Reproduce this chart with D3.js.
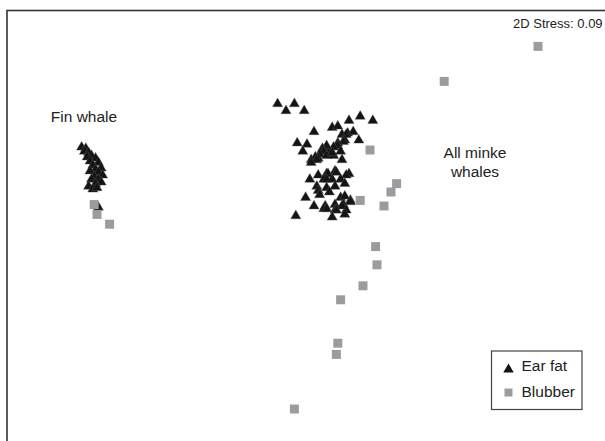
<!DOCTYPE html>
<html>
<head>
<meta charset="utf-8">
<script src="https://cdn.jsdelivr.net/npm/d3@7"></script>
<style>
  body { margin: 0; background: #fff; }
  text { font-family: "Liberation Sans", Arial, sans-serif; fill: #222; }
</style>
</head>
<body>
<div id="chart"></div>
<script>
var width = 605;
var height = 441;

// nMDS ordination coordinates
let finEarFat = [[-1.56,0.52],[-1.53,0.51],[-1.54,0.49],[-1.51,0.48],[-1.49,0.46],[-1.52,0.45],[-1.46,0.44],[-1.50,0.42],
    [-1.44,0.41],[-1.48,0.39],[-1.42,0.37],[-1.46,0.36],[-1.50,0.35],[-1.44,0.34],[-1.41,0.32],[-1.47,0.31],
    [-1.49,0.29],[-1.44,0.29],[-1.42,0.27],[-1.46,0.26],[-1.51,0.24],[-1.48,0.22],[-1.45,0.23],[-1.44,0.09]];

let minkeEarFat = [[-0.16,0.83],[-0.04,0.83],[-0.10,0.78],[0.03,0.78],
    [0.43,0.74],[0.35,0.71],[0.52,0.71],
    [0.10,0.63],[0.23,0.66],[0.27,0.67],
    [0.30,0.61],[0.34,0.62],[0.33,0.61],[0.38,0.63],[0.42,0.57],[0.32,0.57],[0.31,0.56],
    [-0.02,0.55],[0.05,0.54],[0.02,0.49],
    [0.27,0.55],[0.27,0.53],[0.24,0.52],[0.20,0.50],[0.19,0.53],[0.16,0.51],[0.17,0.49],[0.14,0.47],
    [0.11,0.45],[0.13,0.44],[0.08,0.43],[0.12,0.43],
    [0.19,0.46],[0.24,0.46],[0.23,0.48],[0.29,0.49],[0.30,0.43],[0.08,0.41],
    [0.07,0.29],[0.13,0.32],[0.19,0.33],[0.20,0.33],[0.25,0.35],[0.26,0.34],[0.35,0.33],[0.33,0.32],
    [0.17,0.29],[0.19,0.29],[0.23,0.29],[0.29,0.29],
    [0.32,0.26],[0.12,0.24],[0.19,0.23],[0.25,0.24],
    [0.13,0.21],[0.21,0.20],[0.14,0.18],
    [0.04,0.16],[0.10,0.10],[0.18,0.10],[0.29,0.16],[0.32,0.17],[0.36,0.14],[0.36,0.13],[0.25,0.11],[0.31,0.11],[0.30,0.10],
    [0.17,0.08],[0.19,0.08],[0.25,0.07],[0.26,0.07],[0.33,0.07],
    [-0.03,0.03],[0.23,0.02],[0.32,0.04]];

let finBlubber = [[-1.47,0.11],[-1.45,0.04],[-1.36,-0.03]];

let minkeBlubber = [[1.70,1.24],[1.03,0.99],[0.50,0.50],[0.69,0.26],[0.65,0.20],[0.43,0.14],[0.60,0.10],
    [0.54,-0.19],[0.55,-0.32],[0.45,-0.47],[0.29,-0.57],[0.27,-0.88],[0.26,-0.96],[-0.04,-1.35]];

let groupLabels = [
    {text: ["Fin whale"], pos: [-1.78, 0.70], anchor: "start"},
    {text: ["All minke", "whales"], pos: [1.25, 0.44], anchor: "middle"}
];
let legendItems = ["Ear fat", "Blubber"];
let stressLabel = "2D Stress: 0.09";

let x = d3.scaleLinear().domain([-2, 2]).range([20, 580]);
let y = d3.scaleLinear().domain([-1.5, 1.5]).range([430, 10]);

var svg = d3.select("#chart")
            .append("svg")
              .attr("width", width).attr("height", height);

// frame (runs off the right and bottom edge like the original)
svg.append("rect")
    .attr("x", 7).attr("y", 10.5)
    .attr("width", 700).attr("height", 500)
    .attr("fill", "none").attr("stroke", "#333").attr("stroke-width", 1.6);

let tri = d3.symbol().type(d3.symbolTriangle).size(44);
let sq = d3.symbol().type(d3.symbolSquare).size(81);

let earFat = finEarFat.concat(minkeEarFat);
let blubber = finBlubber.concat(minkeBlubber);

svg.append("g").selectAll(".ear").data(earFat)
    .join("path")
    .attr("class", "ear")
    .attr("d", tri)
    .attr("transform", d => `translate(${x(d[0])},${y(d[1])})`)
    .attr("fill", "#141414")
    .attr("stroke", "#555").attr("stroke-width", 0.4);

svg.append("g").selectAll(".blub").data(blubber)
    .join("path")
    .attr("class", "blub")
    .attr("d", sq)
    .attr("transform", d => `translate(${x(d[0])},${y(d[1])})`)
    .attr("fill", "#9b9ca0");

// group labels
groupLabels.forEach(function(g){
    let t = svg.append("text")
        .attr("x", x(g.pos[0])).attr("y", y(g.pos[1]))
        .attr("text-anchor", g.anchor)
        .style("font-size", "15.5px");
    g.text.forEach(function(line, i){
        t.append("tspan").attr("x", x(g.pos[0])).attr("dy", i == 0 ? 0 : 18.5).text(line);
    });
});

svg.append("text")
    .attr("x", 513).attr("y", 27.5)
    .style("font-size", "13px")
    .text(stressLabel);

// legend
let lg = svg.append("g").attr("transform", "translate(491.5,351)");
lg.append("rect").attr("width", 90.5).attr("height", 58.5)
    .attr("fill", "#fff").attr("stroke", "#444").attr("stroke-width", 1.2);
lg.append("path").attr("d", d3.symbol().type(d3.symbolTriangle).size(48))
    .attr("transform", "translate(17,18.5)").attr("fill", "#141414");
lg.append("path").attr("d", d3.symbol().type(d3.symbolSquare).size(64))
    .attr("transform", "translate(17,41.5)").attr("fill", "#9b9ca0");
lg.selectAll(".lab").data(legendItems)
    .join("text")
    .attr("class", "lab")
    .attr("x", 30).attr("y", (d, i) => 20 + i * 26)
    .style("font-size", "15.5px")
    .text(d => d);
</script>
</body>
</html>
